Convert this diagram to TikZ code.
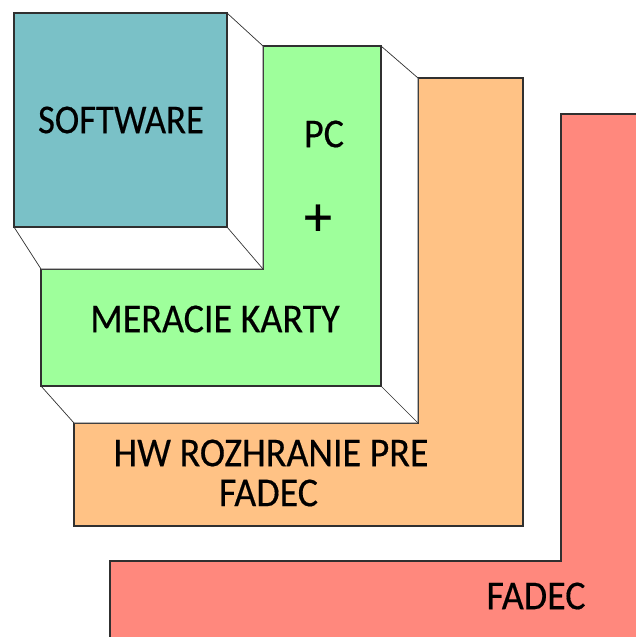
\documentclass[tikz,border=0pt]{standalone}
\usepackage{fontspec}
\setmainfont{Carlito}[FakeBold=0.4]
\definecolor{tealc}{HTML}{7AC1C7}
\definecolor{greenc}{HTML}{9EFF9B}
\definecolor{orangec}{HTML}{FFC285}
\definecolor{redc}{HTML}{FF887D}
\definecolor{linec}{HTML}{303030}
\tikzset{
  face/.style={draw=linec,line width=1.1pt,line join=miter},
  side/.style={draw=linec,line width=0.7pt,fill=white},
  lab/.style={inner sep=0pt,align=center,text=black,yscale=1.08,transform shape,font=\fontsize{38}{37}\selectfont}
}
\begin{document}
\begin{tikzpicture}[x=1pt,y=-1pt]
\useasboundingbox (0,0) rectangle (636,637);
\fill[white] (0,0) rectangle (636,637);
% red
\path[face,fill=redc] (561,114) -- (640,114) -- (640,641) -- (110,641) -- (110,561) -- (561,561) -- cycle;
% orange
\path[face,fill=orangec] (418,78) -- (523,78) -- (523,526) -- (74,526) -- (74,423) -- (418,423) -- cycle;
\path[side] (381,46) -- (418,78) -- (418,423) -- (74,423) -- (41,386) -- (381,386) -- cycle;
\path[side] (381,386) -- (418,423);
% green
\path[face,fill=greenc] (263,46) -- (381,46) -- (381,386) -- (41,386) -- (41,269) -- (263,269) -- cycle;
\path[side] (227,13) -- (263,46) -- (263,269) -- (41,269) -- (14,227) -- (227,227) -- cycle;
\path[side] (227,227) -- (263,269);
% teal
\path[face,fill=tealc] (14,13) rectangle (227,227);
\node[lab,xscale=.965] (sw) at (121,120) {SOFTWARE};
\node[lab] (pc) at (324,134) {PC};
\node[lab,font=\fontsize{56}{56}\selectfont,yscale=.93] (plus) at (318,220) {+};
\node[lab] (mk) at (215,319) {MERACIE KARTY};
\node[lab] (hw) at (271,473) {HW ROZHRANIE PRE\\FADEC\hspace{5pt}\null};
\node[lab] (fd) at (536,596) {FADEC};
\end{tikzpicture}
\end{document}
